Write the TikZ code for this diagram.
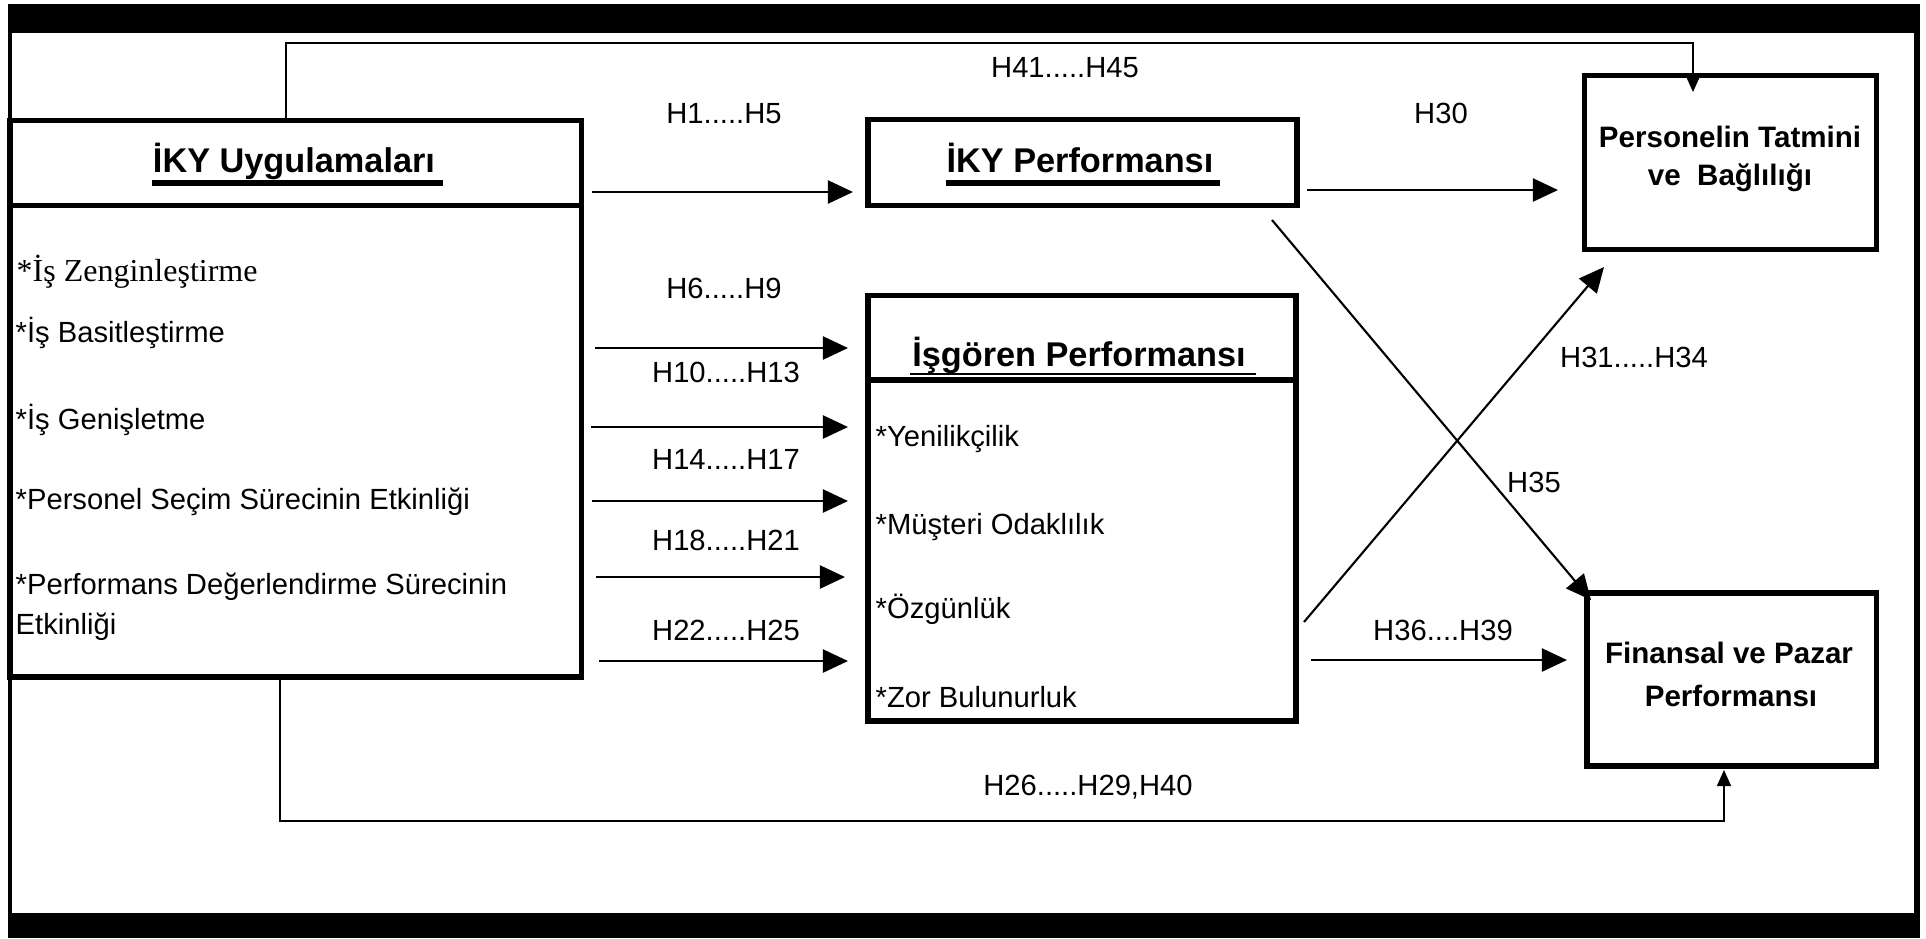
\documentclass[tikz,border=0pt]{standalone}
\usepackage{fontspec}
\setmainfont{Liberation Sans}
\newfontfamily\timesfont{Liberation Serif}
\usetikzlibrary{arrows.meta,fit}

\begin{document}
\begin{tikzpicture}[x=0.01cm,y=-0.01cm,
  box/.style={draw, line width=1.45pt, inner sep=0pt},
  rule/.style={line width=1.45pt},
  conn/.style={line width=0.6pt},
  guide/.style={line width=0.45pt},
  bigtip/.style={-{Triangle[length=2.5mm,width=2.3mm]}},
  smalltip/.style={-{Triangle[length=1.6mm,width=1.4mm]}},
  hlabel/.style={anchor=base, inner sep=0pt, font=\fontsize{8.3}{9.5}\selectfont},
  item/.style={anchor=base west, inner sep=0pt, font=\fontsize{8.3}{9.5}\selectfont},
  title/.style={anchor=base, inner sep=0pt, font=\fontsize{9.75}{11}\selectfont\bfseries},
  outcome/.style={anchor=base, inner sep=0pt, font=\fontsize{8.4}{9.5}\selectfont\bfseries},
]
\fill[white] (0,0) rectangle (1926,938);
\useasboundingbox (0,0) rectangle (1926,938);

% page frame
\fill (8,4) rectangle (1920,33);
\fill (8,28) rectangle (12,913);
\fill (1914,28) rectangle (1920,913);
\fill (8,913) rectangle (1920,938);

% boxes
\node[box, fit={(10,120.5) (581.5,677)}] (iky) {};
\draw[rule] (10,205.5) -- (581.5,205.5);
\node[box, fit={(868,119.5) (1297,205.5)}] (ikyp) {};
\node[box, fit={(868,295.5) (1296,721)}] (isg) {};
\draw[rule] (868,380) -- (1296,380);
\node[box, fit={(1584.5,75.5) (1876.5,249.5)}] (pers) {};
\node[box, fit={(1587,593) (1876.5,766)}] (fin) {};

% box titles
\node[title] (ikyT) at (294,172) {İKY Uygulamaları};
\draw[rule] (152,183) -- (443,183);
\node[title] (ikypT) at (1080,172) {İKY Performansı};
\draw[rule] (946,183) -- (1220,183);
\node[title] (isgT) at (1079,366) {İşgören Performansı};
\draw[line width=0.6pt] (910,374) -- (1256,374);
\node[outcome] (persT1) at (1730,147) {Personelin Tatmini};
\node[outcome] (persT2) at (1730,185) {ve\ \ Bağlılığı};
\node[outcome] (finT1) at (1729,663) {Finansal ve Pazar};
\node[outcome] (finT2) at (1731,706) {Performansı};

% practices
\node[item, font=\fontsize{9.1}{10}\selectfont\timesfont] (p1) at (16,281) {*İş Zenginleştirme};
\node[item] (p2) at (15,342) {*İş Basitleştirme};
\node[item] (p3) at (15,429) {*İş Genişletme};
\node[item] (p4) at (15,509) {*Personel Seçim Sürecinin Etkinliği};
\node[item] (p5) at (15,594) {*Performans Değerlendirme Sürecinin};
\node[item] (p6) at (15,634) {Etkinliği};

% employee performance items
\node[item] (e1) at (875,446) {*Yenilikçilik};
\node[item] (e2) at (875,534) {*Müşteri Odaklılık};
\node[item] (e3) at (875,618) {*Özgünlük};
\node[item] (e4) at (875,707) {*Zor Bulunurluk};

% connector end points
\coordinate (a1s) at (592,192);  \coordinate (a1e) at (853,192);
\coordinate (a2s) at (595,348);  \coordinate (a2e) at (848,348);
\coordinate (a3s) at (591,427);  \coordinate (a3e) at (848,427);
\coordinate (a4s) at (592,501);  \coordinate (a4e) at (848,501);
\coordinate (a5s) at (596,577);  \coordinate (a5e) at (845,577);
\coordinate (a6s) at (599,661);  \coordinate (a6e) at (848,661);
\coordinate (b1s) at (1307,190); \coordinate (b1e) at (1558,190);
\coordinate (b2s) at (1311,660); \coordinate (b2e) at (1567,660);
\coordinate (d1s) at (1272,220); \coordinate (d1e) at (1591,600);
\coordinate (d2s) at (1304,622); \coordinate (d2e) at (1604,267);
\coordinate (t0) at (286,120);   \coordinate (t1) at (286,43);
\coordinate (t2) at (1693,43);   \coordinate (t3) at (1693,92);
\coordinate (u0) at (280,677);   \coordinate (u1) at (280,821);
\coordinate (u2) at (1724,821);  \coordinate (u3) at (1724,770);

% hypothesis arrows
\draw[conn,bigtip] (a1s) -- (a1e);
\draw[conn,bigtip] (a2s) -- (a2e);
\draw[conn,bigtip] (a3s) -- (a3e);
\draw[conn,bigtip] (a4s) -- (a4e);
\draw[conn,bigtip] (a5s) -- (a5e);
\draw[conn,bigtip] (a6s) -- (a6e);
\draw[conn,bigtip] (b1s) -- (b1e);
\draw[conn,bigtip] (b2s) -- (b2e);
\draw[conn,bigtip] (d1s) -- (d1e);
\draw[conn,bigtip] (d2s) -- (d2e);
\draw[guide,smalltip] (t0) -- (t1) -- (t2) -- (t3);
\draw[guide,smalltip] (u0) -- (u1) -- (u2) -- (u3);

% hypothesis labels
\node[hlabel] (h1) at (724,123) {H1.....H5};
\node[hlabel] (h6) at (724,298) {H6.....H9};
\node[hlabel] (h10) at (726,382) {H10.....H13};
\node[hlabel] (h14) at (726,469) {H14.....H17};
\node[hlabel] (h18) at (726,550) {H18.....H21};
\node[hlabel] (h22) at (726,640) {H22.....H25};
\node[hlabel] (h30) at (1441,123) {H30};
\node[hlabel] (h41) at (1065,77) {H41.....H45};
\node[hlabel] (h31) at (1634,367) {H31.....H34};
\node[hlabel] (h35) at (1534,492) {H35};
\node[hlabel] (h36) at (1443,640) {H36....H39};
\node[hlabel] (h26) at (1088,795) {H26.....H29,H40};
\end{tikzpicture}
\end{document}
